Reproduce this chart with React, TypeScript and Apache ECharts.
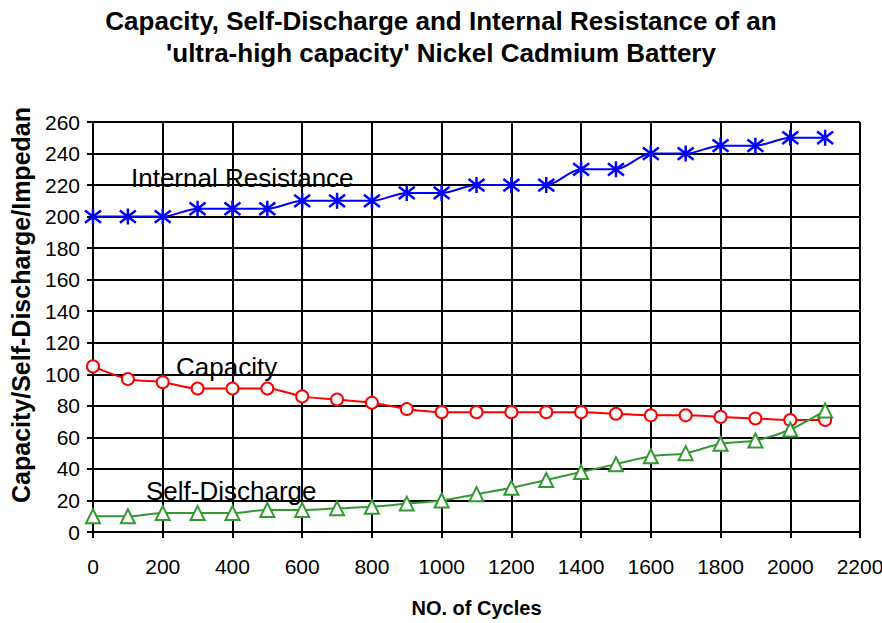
import React, { useEffect, useRef } from "react";
import * as echarts from "echarts";

const cycles = [0, 100, 200, 300, 400, 500, 600, 700, 800, 900, 1000, 1100, 1200, 1300, 1400, 1500, 1600, 1700, 1800, 1900, 2000, 2100];
const internalResistance = [200, 200, 200, 205, 205, 205, 210, 210, 210, 215, 215, 220, 220, 220, 230, 230, 240, 240, 245, 245, 250, 250];
const capacity = [105, 97, 95, 91, 91, 91, 86, 84, 82, 78, 76, 76, 76, 76, 76, 75, 74, 74, 73, 72, 71, 71];
const selfDischarge = [10, 10, 12, 12, 12, 14, 14, 15, 16, 18, 20, 24, 28, 33, 38, 43, 48, 50, 56, 58, 65, 77];

const seriesNames = ["Internal Resistance", "Capacity", "Self-Discharge"];
const titleLines = ["Capacity, Self-Discharge and Internal Resistance of an", "'ultra-high capacity' Nickel Cadmium Battery"];
const xAxisName = "NO. of Cycles";
const yAxisName = "Capacity/Self-Discharge/Impedan";

const FONT = "'Liberation Sans', Arial, sans-serif";

export default function App() {
  const ref = useRef<HTMLDivElement>(null);
  useEffect(() => {
    document.body.style.margin = "0";
    if (!ref.current) return;
    const chart = echarts.init(ref.current, null, { renderer: "svg" });
    const pair = (ys: number[]) => cycles.map((c, i) => [c, ys[i]]);
    chart.setOption({
      animation: false,
      backgroundColor: "#ffffff",
      textStyle: { fontFamily: FONT },
      title: {
        text: titleLines.join("\n"),
        left: "center",
        top: 0,
        textStyle: { fontFamily: FONT, fontSize: 26, fontWeight: "bold", color: "#000", lineHeight: 32 },
      },
      grid: { left: 93, top: 122, right: 22, bottom: 91, containLabel: false, outerBoundsMode: "none" },
      xAxis: {
        type: "value",
        min: 0,
        max: 2200,
        interval: 200,
        name: xAxisName,
        nameLocation: "middle",
        nameGap: 66,
        nameTextStyle: { fontFamily: FONT, fontSize: 20, fontWeight: "bold", color: "#000" },
        axisLine: { show: true, lineStyle: { color: "#000", width: 2 } },
        axisTick: { show: true, length: 6, lineStyle: { color: "#000", width: 2 } },
        axisLabel: { fontFamily: FONT, fontSize: 21, color: "#000", margin: 24, formatter: (v: number) => String(v) },
        splitLine: { show: true, lineStyle: { color: "#000", width: 2 } },
      },
      yAxis: {
        type: "value",
        min: 0,
        max: 260,
        interval: 20,
        name: yAxisName,
        nameLocation: "middle",
        nameGap: 60,
        nameRotate: 90,
        nameTextStyle: { fontFamily: FONT, fontSize: 25, fontWeight: "bold", color: "#000", padding: [0, 0, 0, 44] },
        axisLine: { show: true, lineStyle: { color: "#000", width: 2 } },
        axisTick: { show: true, length: 6, lineStyle: { color: "#000", width: 2 } },
        axisLabel: { fontFamily: FONT, fontSize: 21, color: "#000", margin: 13, formatter: (v: number) => String(v) },
        splitLine: { show: true, lineStyle: { color: "#000", width: 2 } },
      },
      series: [
        {
          name: seriesNames[0],
          type: "line",
          data: pair(internalResistance),
          smooth: 0.3,
          symbol: "path://M-1,-1L1,1M1,-1L-1,1M0,-1.3L0,1.3",
          symbolSize: 16,
          lineStyle: { color: "#0000ff", width: 2 },
          itemStyle: { color: "#ffffff", borderColor: "#0000ff", borderWidth: 2.5 },
        },
        {
          name: seriesNames[1],
          type: "line",
          data: pair(capacity),
          smooth: 0.3,
          symbol: "circle",
          symbolSize: 12,
          lineStyle: { color: "#ff0000", width: 2 },
          itemStyle: { color: "#ffffff", borderColor: "#ff0000", borderWidth: 2 },
        },
        {
          name: seriesNames[2],
          type: "line",
          data: pair(selfDischarge),
          smooth: 0.3,
          symbol: "triangle",
          symbolSize: 14,
          lineStyle: { color: "#339933", width: 2 },
          itemStyle: { color: "#ffffff", borderColor: "#339933", borderWidth: 2 },
        },
      ],
      graphic: [
        { type: "text", x: 131, y: 178, style: { text: seriesNames[0], font: `26px ${FONT}`, fill: "#000", verticalAlign: "middle" } },
        { type: "text", x: 176, y: 367, style: { text: seriesNames[1], font: `26px ${FONT}`, fill: "#000", verticalAlign: "middle" } },
        { type: "text", x: 146, y: 491, style: { text: seriesNames[2], font: `26px ${FONT}`, fill: "#000", verticalAlign: "middle" } },
      ],
    });
    return () => chart.dispose();
  }, []);
  return <div ref={ref} style={{ width: 882, height: 623 }} />;
}
